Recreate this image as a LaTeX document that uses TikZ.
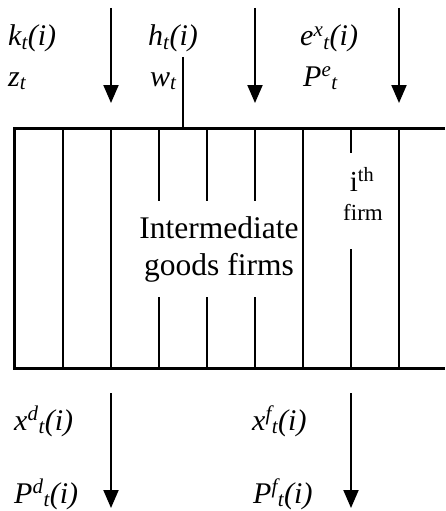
\documentclass[tikz,border=0pt]{standalone}
\usepackage{fontspec}
\setmainfont{Liberation Serif}
\usetikzlibrary{arrows.meta,positioning}

\begin{document}
\begin{tikzpicture}[
        x=1pt, y=-1pt,
        var/.style={anchor=base west, inner sep=0pt, font=\fontsize{30}{36}\selectfont\itshape},
        title/.style={inner sep=0pt, align=center, font=\fontsize{31.5}{37}\selectfont},
        flow/.style={draw, line width=2pt, -{Triangle[width=15pt,length=18pt]}},
        border/.style={draw, line width=3pt},
        firmline/.style={draw, line width=1.5pt}
    ]
        \useasboundingbox (0,0) rectangle (445,511);

        % the sector box, open on the right
        \draw [border] (445,128) -- (14,128) -- (14,368) -- (445,368);
        \draw [firmline] (183,57) -- (183,128);

        % firms
        \foreach \x in {63,111,303,399}
            \draw [firmline] (\x,128) -- (\x,368);
        \foreach \x in {159,207,255} {
            \draw [firmline] (\x,128) -- (\x,201);
            \draw [firmline] (\x,297) -- (\x,368);
        }
        \draw [firmline] (351,128) -- (351,153);
        \draw [firmline] (351,249) -- (351,368);

        \node [title] (sector) at (219,249.5) {Intermediate\\goods firms};
        \node [inner sep=0pt, anchor=base, font=\fontsize{29}{34}\selectfont] (ith) at (362,191) {i\textsuperscript{th}};
        \node [inner sep=0pt, anchor=base, font=\fontsize{23}{26}\selectfont] (firm) at (363,220) {firm};

        % inputs
        \node [var] (kt) at (8,46) {k\textsubscript{t}(i)};
        \node [var] (zt) at (8,86) {z\textsubscript{t}};
        \node [var] (ht) at (148,46) {h\textsubscript{t}(i)};
        \node [var] (wt) at (150,86) {w\textsubscript{t}};
        \node [var] (ext) at (300,46) {e\textsuperscript{x}\textsubscript{t}(i)};
        \node [var] (pet) at (303,86) {P\textsuperscript{e}\textsubscript{t}};

        % outputs
        \node [var] (xdt) at (14,430) {x\textsuperscript{d}\textsubscript{t}(i)};
        \node [var] (pdt) at (14,503) {P\textsuperscript{d}\textsubscript{t}(i)};
        \node [var] (xft) at (252,430) {x\textsuperscript{f}\textsubscript{t}(i)};
        \node [var] (pft) at (253,503) {P\textsuperscript{f}\textsubscript{t}(i)};

        \coordinate (in1) at (111,8);   \coordinate (in1e) at (111,103);
        \coordinate (in2) at (255,8);   \coordinate (in2e) at (255,103);
        \coordinate (in3) at (399,8);   \coordinate (in3e) at (399,103);
        \coordinate (out1) at (111,393); \coordinate (out1e) at (111,508);
        \coordinate (out2) at (351,393); \coordinate (out2e) at (351,508);

        \path [flow] (in1) -- (in1e);
        \path [flow] (in2) -- (in2e);
        \path [flow] (in3) -- (in3e);
        \path [flow] (out1) -- (out1e);
        \path [flow] (out2) -- (out2e);
    \end{tikzpicture}
\end{document}
